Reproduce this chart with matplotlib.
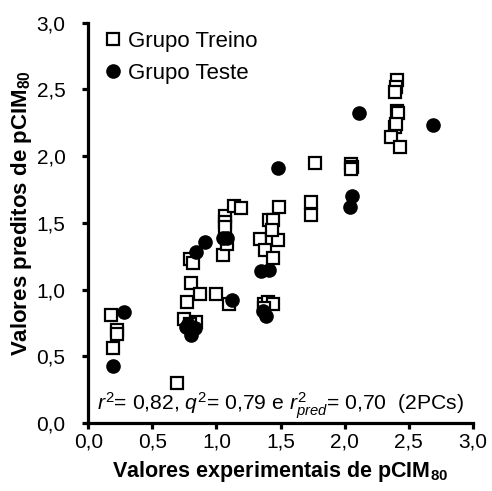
import matplotlib
matplotlib.use("Agg")
import matplotlib.pyplot as plt

plt.rcParams['font.family'] = ['Liberation Sans', 'DejaVu Sans']
plt.rcParams['mathtext.fontset'] = 'custom'
plt.rcParams['mathtext.rm'] = 'Liberation Sans'
plt.rcParams['mathtext.it'] = 'Liberation Sans:italic'
plt.rcParams['mathtext.bf'] = 'Liberation Sans:bold'

# Training set (experimental, predicted)
train_x = [0.18, 0.22, 0.22, 0.19, 0.69,
           0.77, 0.80, 0.87, 0.75, 0.84, 0.79,
           0.79, 0.82, 1.00, 1.10,
           1.05, 1.08, 1.07, 1.07, 1.07, 1.14, 1.19,
           1.34, 1.43, 1.48, 1.38, 1.44, 1.41, 1.44, 1.43, 1.49,
           1.37, 1.40, 1.44, 1.37,
           1.77, 1.74, 1.74,
           2.05, 2.06, 2.05,
           2.41, 2.40, 2.39, 2.41, 2.42, 2.39, 2.40, 2.36, 2.43]
train_y = [0.81, 0.70, 0.67, 0.56, 0.30,
           0.91, 1.05, 0.97, 0.78, 0.76, 0.74,
           1.23, 1.20, 0.97, 0.89,
           1.26, 1.34, 1.55, 1.51, 1.47, 1.63, 1.61,
           1.38, 1.38, 1.37, 1.30, 1.24, 1.52, 1.52, 1.45, 1.62,
           0.89, 0.91, 0.89, 0.86,
           1.95, 1.66, 1.56,
           1.94, 1.92, 1.90,
           2.57, 2.52, 2.48, 2.34, 2.32, 2.22, 2.24, 2.14, 2.07]

# Test set
test_x = [0.28, 0.19, 0.76, 0.80, 0.83, 0.78,
          0.84, 0.91, 1.05, 1.08, 1.12,
          1.35, 1.41, 1.36, 1.39,
          1.48, 2.06, 2.04, 2.11, 2.69]
test_y = [0.83, 0.43, 0.72, 0.66, 0.71, 0.74,
          1.28, 1.36, 1.39, 1.39, 0.92,
          1.14, 1.15, 0.84, 0.80,
          1.91, 1.70, 1.62, 2.32, 2.23]

ticks = [0.0, 0.5, 1.0, 1.5, 2.0, 2.5, 3.0]
tick_labels = ['0,0', '0,5', '1,0', '1,5', '2,0', '2,5', '3,0']

fig = plt.figure(figsize=(4.92, 4.91), dpi=100)
ax = fig.add_axes([0.1795, 0.138, 0.7815, 0.816])

ax.plot(train_x, train_y, linestyle='none', marker='s', markersize=8,
        markerfacecolor='white', markeredgecolor='black', markeredgewidth=1.6,
        label='Grupo Treino')
ax.plot(test_x, test_y, linestyle='none', marker='o', markersize=9.5,
        markerfacecolor='black', markeredgecolor='black',
        label='Grupo Teste')

ax.set_xlim(0, 3)
ax.set_ylim(0, 3)
ax.set_xticks(ticks)
ax.set_xticklabels(tick_labels)
ax.set_yticks(ticks)
ax.set_yticklabels(tick_labels)
for s in ['top', 'right']:
    ax.spines[s].set_visible(False)
for s in ['left', 'bottom']:
    ax.spines[s].set_linewidth(2.3)
ax.tick_params(direction='out', length=4.5, width=2.3, labelsize=15)
ax.tick_params(axis='x', pad=2)
ax.tick_params(axis='y', pad=12)

ax.set_xlabel(r'Valores experimentais de pCIM$_{\mathbf{80}}$', fontsize=15.5,
              fontweight='bold')
ax.set_ylabel(r'Valores preditos de pCIM$_{\mathbf{80}}$', fontsize=16,
              fontweight='bold')
ax.xaxis.set_label_coords(0.498, -0.09)
ax.yaxis.set_label_coords(-0.142, 0.525)

ax.legend(loc='upper left', frameon=False, fontsize=16, handletextpad=0.15,
          handlelength=1.0, borderaxespad=0.0, borderpad=0.0,
          labelspacing=0.52, bbox_to_anchor=(0.036, 0.98))

ax.text(0.022, 0.033, r'$r^2$= 0,82, $q^2$= 0,79 e $r^2_{pred}$= 0,70  (2PCs)',
        transform=ax.transAxes, fontsize=15.2, ha='left', va='baseline')

fig.savefig('out.png', dpi=100)
